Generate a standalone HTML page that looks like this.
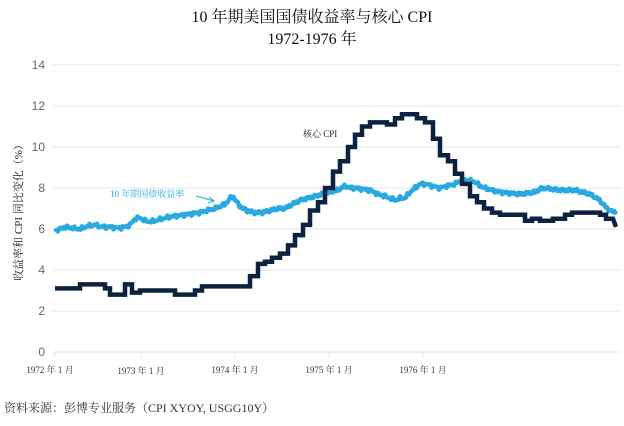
<!DOCTYPE html><html><head><meta charset="utf-8"><style>
body{margin:0;background:#fff;width:624px;height:421px;overflow:hidden;font-family:"Liberation Serif","Noto Serif CJK SC",serif}
</style></head><body>
<svg id="s" width="624" height="421" xmlns="http://www.w3.org/2000/svg">
<text x="312" y="22" text-anchor="middle" font-size="16" fill="#111" font-family="Liberation Serif,Noto Serif CJK SC,serif">10 年期美国国债收益率与核心 CPI</text>
<text x="312" y="44" text-anchor="middle" font-size="16" fill="#111" font-family="Liberation Serif,Noto Serif CJK SC,serif">1972-1976 年</text>
<g stroke="#e6e6e6" stroke-width="1">
<line x1="53" x2="620" y1="65" y2="65"/><line x1="53" x2="620" y1="106" y2="106"/><line x1="53" x2="620" y1="147" y2="147"/><line x1="53" x2="620" y1="188" y2="188"/><line x1="53" x2="620" y1="229" y2="229"/><line x1="53" x2="620" y1="270" y2="270"/><line x1="53" x2="620" y1="311" y2="311"/><line x1="53" x2="620" y1="352" y2="352"/>
<line x1="141" x2="141" y1="352" y2="357"/><line x1="235" x2="235" y1="352" y2="357"/><line x1="329" x2="329" y1="352" y2="357"/><line x1="423" x2="423" y1="352" y2="357"/><line x1="55" x2="55" y1="352" y2="357"/>
</g>
<g font-family="Liberation Sans,sans-serif" font-size="12" fill="#666" text-anchor="end">
<text x="45" y="69">14</text><text x="45" y="110">12</text><text x="45" y="151">10</text><text x="45" y="192">8</text><text x="45" y="233">6</text><text x="45" y="274">4</text><text x="45" y="315">2</text><text x="45" y="356">0</text>
</g>
<g font-size="9" fill="#333" text-anchor="middle">
<text x="50" y="373">1972 年 1 月</text><text x="141" y="374">1973 年 1 月</text><text x="235" y="373">1974 年 1 月</text><text x="329" y="373">1975 年 1 月</text><text x="423" y="373">1976 年 1 月</text>
</g>
<text transform="translate(22,210) rotate(-90)" text-anchor="middle" font-size="11" fill="#222">收益率和 CPI 同比变化（%）</text>
<text x="4" y="412" font-size="12" fill="#333">资料来源：彭博专业服务（CPI XYOY, USGG10Y）</text>
<text x="303" y="137" font-size="9" fill="#222">核心 CPI</text>
<text x="110" y="197" font-size="9" fill="#29a8e0">10 年期国债收益率</text>
<path d="M196 196 L214 201 M209 197 L214 201 L208 203" stroke="#29a8e0" fill="none" stroke-width="1"/>
<path id="y" fill="none" stroke="#2aa9e0" stroke-width="4.5" stroke-linejoin="round"/>
<path id="c" fill="none" stroke="#0d2240" stroke-width="4.5" stroke-linejoin="miter"/>
</svg>
<script>
function py(v){return 352-v*20.5}
var yd=[[55,5.9],[60,6.0],[65,6.1],[72,6.05],[80,6.0],[88,6.15],[95,6.2],[102,6.1],[110,6.1],[118,6.05],[125,6.1],[130,6.2],[135,6.5],[140,6.55],[145,6.4],[150,6.35],[155,6.4],[162,6.5],[170,6.6],[178,6.65],[185,6.7],[192,6.75],[200,6.8],[207,6.9],[215,7.0],[220,7.1],[225,7.2],[230,7.5],[233,7.6],[237,7.3],[240,7.1],[247,6.9],[255,6.8],[262,6.8],[270,6.9],[278,7.0],[285,7.0],[292,7.2],[300,7.4],[307,7.5],[315,7.6],[322,7.7],[330,7.8],[338,7.9],[345,8.1],[350,8.0],[355,8.0],[362,7.95],[370,7.9],[378,7.7],[385,7.6],[390,7.5],[395,7.4],[400,7.5],[405,7.5],[410,7.8],[415,8.0],[420,8.2],[425,8.2],[432,8.1],[440,8.0],[447,8.1],[455,8.2],[460,8.35],[465,8.4],[470,8.35],[475,8.3],[480,8.1],[485,8.0],[492,7.9],[500,7.8],[510,7.75],[520,7.7],[528,7.75],[535,7.8],[540,7.95],[545,8.0],[552,7.95],[560,7.9],[568,7.9],[575,7.9],[582,7.8],[590,7.7],[595,7.55],[600,7.4],[605,7.1],[610,6.9],[616,6.8]];
var cd=[[55,3.1],[80,3.1],[80,3.3],[105,3.3],[105,3.1],[110,3.1],[110,2.8],[125,2.8],[125,3.3],[132,3.3],[132,2.9],[140,2.9],[140,3.0],[175,3.0],[175,2.8],[195,2.8],[195,3.0],[202,3.0],[202,3.2],[250,3.2],[250,3.7],[258,3.7],[258,4.3],[265,4.3],[265,4.4],[272,4.4],[272,4.6],[280,4.6],[280,4.8],[288,4.8],[288,5.2],[295,5.2],[295,5.7],[303,5.7],[303,6.2],[310,6.2],[310,6.9],[318,6.9],[318,7.3],[325,7.3],[325,8.0],[333,8.0],[333,8.8],[340,8.8],[340,9.3],[348,9.3],[348,10.0],[355,10.0],[355,10.6],[362,10.6],[362,11.0],[370,11.0],[370,11.2],[387,11.2],[387,11.1],[395,11.1],[395,11.4],[402,11.4],[402,11.6],[417,11.6],[417,11.4],[425,11.4],[425,11.2],[433,11.2],[433,10.4],[440,10.4],[440,9.6],[448,9.6],[448,9.3],[455,9.3],[455,8.7],[462,8.7],[462,8.2],[470,8.2],[470,7.6],[477,7.6],[477,7.3],[484,7.3],[484,7.0],[492,7.0],[492,6.8],[500,6.8],[500,6.7],[525,6.7],[525,6.4],[532,6.4],[532,6.5],[540,6.5],[540,6.4],[553,6.4],[553,6.5],[565,6.5],[565,6.7],[572,6.7],[572,6.8],[600,6.8],[600,6.7],[606,6.7],[606,6.5],[613,6.5],[616,6.1]];
function d(a){return a.map(function(p,i){return(i?'L':'M')+p[0]+' '+py(p[1]).toFixed(1)}).join(' ')}
// jittered yield
var pts=[],j=0;
for(var x=55;x<=616;x+=1.5){while(j<yd.length-2&&yd[j+1][0]<x)j++;var a=yd[j],b=yd[j+1];var t=Math.max(0,Math.min(1,(x-a[0])/(b[0]-a[0])));var v=a[1]+(b[1]-a[1])*t;v+=0.06*Math.sin(x*1.7)+0.04*Math.sin(x*3.3+1);pts.push([x.toFixed(1),v]);}
document.getElementById('y').setAttribute('d',d(pts));
document.getElementById('c').setAttribute('d',d(cd));
</script>
</body></html>
